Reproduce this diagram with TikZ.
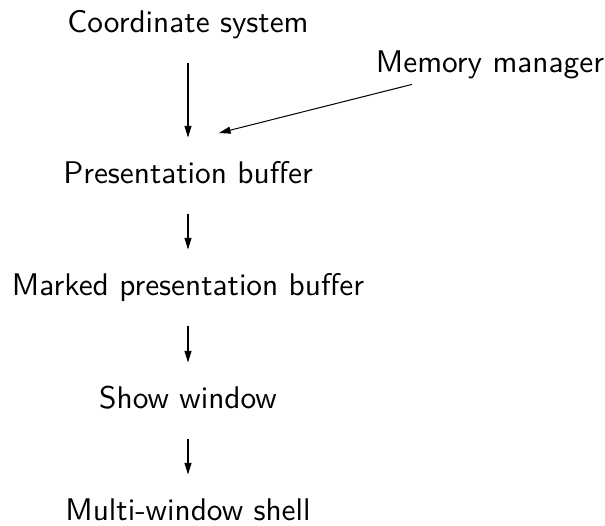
\documentclass[tikz,border=0pt]{standalone}
\usetikzlibrary{arrows.meta}
\begin{document}
\begin{tikzpicture}[x=0.3448pt,y=-0.3448pt,
  lbl/.style={font=\sffamily\fontsize{10.8}{13}\selectfont, inner sep=0pt, text height=7pt, text depth=2pt, anchor=base},
  flow/.style={-{Triangle[length=4pt,width=2.4pt]}, line width=0.35pt, shorten <=8.5pt, shorten >=8.5pt}]
\useasboundingbox (0,0) rectangle (605,526);
\node[lbl] (cs) at (188,32) {Coordinate system};
\node[lbl] (mm) at (490,72) {Memory manager};
\node[lbl] (pb) at (188,183) {Presentation buffer};
\node[lbl] (mpb) at (188,295) {Marked presentation buffer};
\node[lbl] (sw) at (188,408) {Show window};
\node[lbl] (mws) at (188,520) {Multi-window shell};
\coordinate (mmend) at (219,133);
\draw[flow] (cs) -- (pb);
\draw[flow] (pb) -- (mpb);
\draw[flow] (mpb) -- (sw);
\draw[flow] (sw) -- (mws);
\draw[flow, shorten >=0pt] (mm) -- (mmend);
\end{tikzpicture}
\end{document}
